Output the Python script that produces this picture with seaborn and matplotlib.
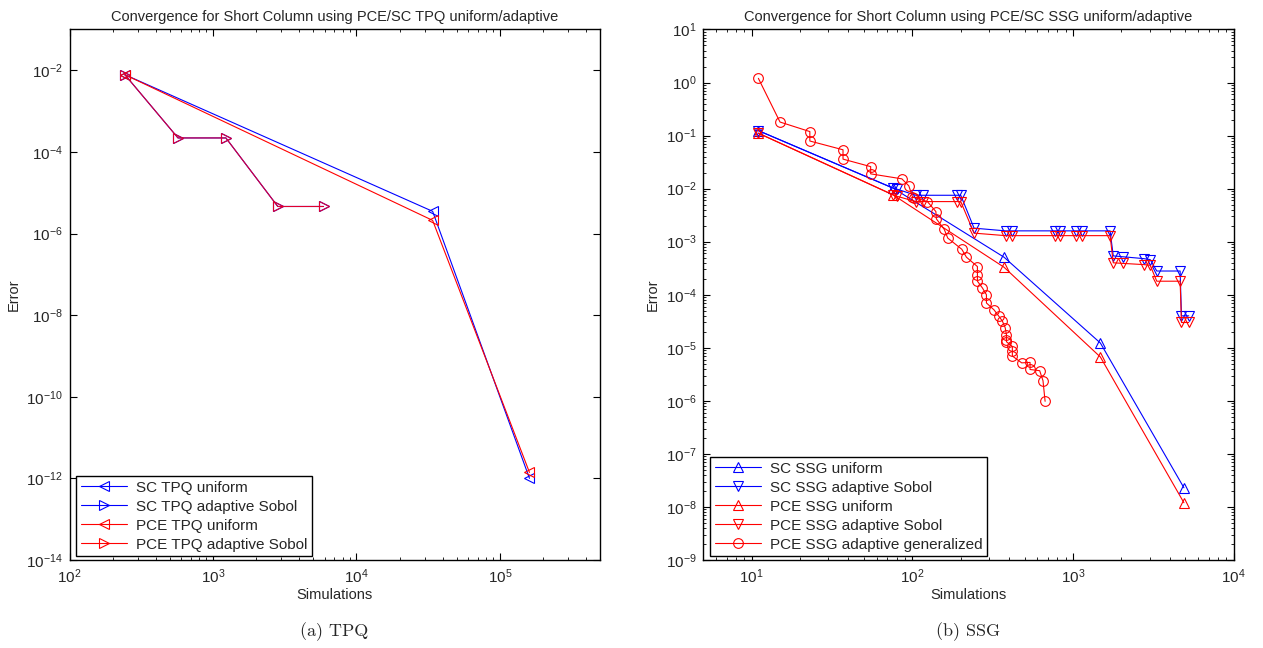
import numpy as np
import pandas as pd
import seaborn as sns
import matplotlib.pyplot as plt
from matplotlib.ticker import LogLocator, NullFormatter, NullLocator, FixedLocator

# ---- (a) TPQ ----
tpq_uni_sims = [243, 34000, 161000]
sc_tpq_uni_err = [7.8e-3, 3.5e-6, 1.0e-12]
pce_tpq_uni_err = [7.8e-3, 2.1e-6, 1.4e-12]

tpq_ada_sims = [243, 570, 1230, 2830, 5900]
sc_tpq_ada_err = [7.8e-3, 2.2e-4, 2.2e-4, 4.6e-6, 4.6e-6]
pce_tpq_ada_err = [7.8e-3, 2.2e-4, 2.2e-4, 4.6e-6, 4.6e-6]

# ---- (b) SSG ----
ssg_uni_sims = [11, 76, 372, 1480, 4900]
sc_ssg_uni_err = [0.124, 0.0102, 5.1e-4, 1.23e-5, 2.3e-8]
pce_ssg_uni_err = [0.111, 7.6e-3, 3.3e-4, 6.7e-6, 1.2e-8]

ssg_ada_sims = [11, 76, 80, 105, 116, 190, 200, 242, 380, 417, 776, 832, 1036, 1137,
                1700, 1780, 2040, 2750, 3020, 3320, 4640, 4730, 5250]
sc_ssg_ada_err = [0.124, 0.0102, 0.0098, 0.0075, 0.0075, 0.0075, 0.0075, 1.8e-3,
                  1.6e-3, 1.6e-3, 1.6e-3, 1.6e-3, 1.6e-3, 1.6e-3, 1.6e-3,
                  5.4e-4, 5.2e-4, 4.8e-4, 4.6e-4, 2.8e-4, 2.8e-4, 4.0e-5, 4.0e-5]
pce_ssg_ada_err = [0.111, 7.6e-3, 7.2e-3, 5.7e-3, 5.7e-3, 5.7e-3, 5.7e-3, 1.45e-3,
                   1.3e-3, 1.3e-3, 1.3e-3, 1.3e-3, 1.3e-3, 1.3e-3, 1.3e-3,
                   4.0e-4, 3.9e-4, 3.7e-4, 3.6e-4, 1.8e-4, 1.8e-4, 3.0e-5, 3.0e-5]

gen_sims = [11, 15, 23, 23, 37, 37, 55, 55, 86, 95, 100, 103, 124, 140, 141, 158, 166,
            203, 217, 254, 254, 254, 273, 289, 289, 322, 346, 363, 378, 385, 385, 385,
            419, 419, 419, 479, 540, 540, 620, 650, 670]
gen_err = [1.2, 0.18, 0.119, 0.079, 0.054, 0.036, 0.026, 0.019, 0.0153, 0.0113, 0.0071,
           0.0068, 0.0057, 0.0037, 0.0027, 0.0017, 0.00117, 0.00072, 0.00051, 0.00034,
           0.00024, 0.00018, 0.000134, 0.0001, 0.00007, 0.000052, 0.000039, 0.000032,
           0.000024, 1.77e-5, 1.4e-5, 1.3e-5, 1.06e-5, 8.6e-6, 7.0e-6, 5.2e-6, 5.3e-6,
           3.9e-6, 3.7e-6, 2.4e-6, 9.8e-7]

sns.set_theme(style="white")
plt.rcParams['font.family'] = ['Liberation Sans', 'DejaVu Sans']
plt.rcParams['mathtext.fontset'] = 'custom'
plt.rcParams['mathtext.rm'] = 'Liberation Sans'
plt.rcParams['mathtext.it'] = 'Liberation Sans:italic'
plt.rcParams['mathtext.bf'] = 'Liberation Sans:bold'

BLUE = (0, 0, 1)
RED = (1, 0, 0)


def draw(ax, x, y, color, marker, label, ms=7.5):
    sns.lineplot(x=x, y=y, ax=ax, color=color, marker=marker, markersize=ms,
                 markerfacecolor='none', markeredgecolor=color, markeredgewidth=0.8,
                 linewidth=0.8, sort=False, estimator=None, label=label)


def style(ax, title):
    ax.set_xscale('log')
    ax.set_yscale('log')
    ax.set_title(title, fontsize=10.5, pad=6)
    ax.set_xlabel("Simulations", fontsize=10.5, labelpad=2)
    ax.set_ylabel("Error", fontsize=10.5)
    ax.tick_params(which='both', direction='in', top=True, right=True,
                   bottom=True, left=True, labelsize=11, color='black')
    ax.tick_params(which='major', length=5, width=0.8, pad=5)
    ax.tick_params(which='minor', length=2.5, width=0.6)
    for s in ax.spines.values():
        s.set_color('black')
        s.set_linewidth(1.0)
    ax.set_facecolor('white')


def legend(ax):
    leg = ax.legend(loc='lower left', bbox_to_anchor=(0.013, 0.007), borderaxespad=0,
                    fontsize=11, handlelength=3.0, frameon=True, fancybox=False,
                    edgecolor='black', framealpha=1, borderpad=0.3,
                    labelspacing=0.33, handletextpad=0.6)
    leg.get_frame().set_linewidth(1.0)
    return leg


fig = plt.figure(figsize=(12.63, 6.48), dpi=100)
fig.patch.set_facecolor('white')
ax1 = fig.add_axes([0.0551, 0.1358, 0.4200, 0.8187])
ax2 = fig.add_axes([0.5569, 0.1358, 0.4199, 0.8187])

# (a)
draw(ax1, tpq_uni_sims, sc_tpq_uni_err, BLUE, '<', "SC TPQ uniform")
draw(ax1, tpq_ada_sims, sc_tpq_ada_err, BLUE, '>', "SC TPQ adaptive Sobol")
draw(ax1, tpq_uni_sims, pce_tpq_uni_err, RED, '<', "PCE TPQ uniform")
draw(ax1, tpq_ada_sims, pce_tpq_ada_err, (0.88, 0.0, 0.18), '>', "PCE TPQ adaptive Sobol")
style(ax1, "Convergence for Short Column using PCE/SC TPQ uniform/adaptive")
ax1.set_xlim(1e2, 5e5)
ax1.set_ylim(1e-14, 1e-1)
ax1.yaxis.set_major_locator(FixedLocator([10.0 ** e for e in range(-14, -1, 2)]))
ax1.yaxis.set_minor_locator(NullLocator())
ax1.xaxis.set_major_locator(LogLocator(base=10, numticks=20))
ax1.xaxis.set_minor_locator(LogLocator(base=10, subs=np.arange(2, 10), numticks=100))
ax1.xaxis.set_minor_formatter(NullFormatter())
leg1 = legend(ax1)
for ln in leg1.get_lines()[3:]:
    ln.set_color(RED)
    ln.set_markeredgecolor(RED)

# (b)
draw(ax2, ssg_uni_sims, sc_ssg_uni_err, BLUE, '^', "SC SSG uniform")
draw(ax2, ssg_ada_sims, sc_ssg_ada_err, BLUE, 'v', "SC SSG adaptive Sobol")
draw(ax2, ssg_uni_sims, pce_ssg_uni_err, RED, '^', "PCE SSG uniform")
draw(ax2, ssg_ada_sims, pce_ssg_ada_err, RED, 'v', "PCE SSG adaptive Sobol")
draw(ax2, gen_sims, gen_err, RED, 'o', "PCE SSG adaptive generalized", ms=7)
style(ax2, "Convergence for Short Column using PCE/SC SSG uniform/adaptive")
ax2.set_xlim(5, 1e4)
ax2.set_ylim(1e-9, 1e1)
for axis in (ax2.xaxis, ax2.yaxis):
    axis.set_major_locator(LogLocator(base=10, numticks=20))
    axis.set_minor_locator(LogLocator(base=10, subs=np.arange(2, 10), numticks=100))
    axis.set_minor_formatter(NullFormatter())
legend(ax2)

fig.text(0.2645, 1 - 632 / 648, "(a) TPQ", family='cmr10', fontsize=13,
         ha='center', va='center')
fig.text(0.7664, 1 - 632 / 648, "(b) SSG", family='cmr10', fontsize=13,
         ha='center', va='center')

fig.savefig("out.png", dpi=100, facecolor='white')
